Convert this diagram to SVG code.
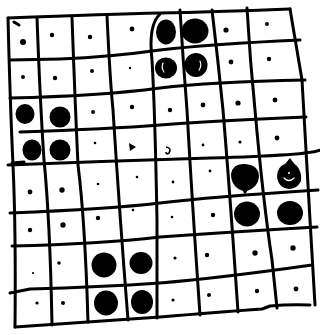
<svg xmlns="http://www.w3.org/2000/svg" width="320" height="335" viewBox="0 0 320 335">
<style>
.ln{fill:none;stroke:#000;stroke-width:3;stroke-linecap:round;stroke-linejoin:round}
.st{fill:#000}
.hl{fill:none;stroke:#fff;stroke-width:1.2;stroke-linecap:round}
</style>
<rect width="320" height="335" fill="#fff"/>
<g id="grid">
<path class="ln" d="M8,18 Q110,14 160,13 T290,9"/>
<path class="ln" d="M10,60 L60,59 Q110,57 160,50 Q212,44 300,40"/>
<path class="ln" d="M10,98 Q100,96 160,88 Q210,82 305,80"/>
<path class="ln" d="M20,132 Q110,129 160,125 Q210,121 306,117"/>
<path class="ln" d="M8,165 Q110,161 210,158 T320,150"/>
<path class="ln" d="M10,213 Q110,209 160,203 Q210,197 318,190"/>
<path class="ln" d="M12,246 Q100,244 160,237 Q230,232 317,227"/>
<path class="ln" d="M10,293 L30,289 Q100,287 160,283 Q220,278 312,265"/>
<path class="ln" d="M15,327 Q100,321 160,317 Q220,312 262,309 L270,306 Q290,304 310,305"/>
<path class="ln" d="M8,18 Q10,100 13,165 T15,327"/>
<path class="ln" d="M37,18 Q40,100 44,160 Q50,220 52,325"/>
<path class="ln" d="M72,18 Q75,100 78,165 Q85,220 88,322"/>
<path class="ln" d="M107,16 Q110,80 113,110 Q120,220 128,320"/>
<path class="ln" d="M160,14 Q148,25 152,60 Q155,110 157,220 L157,318"/>
<path class="ln" d="M180,10 Q183,60 187,110 Q192,200 200,315"/>
<path class="ln" d="M212,10 Q218,60 223,110 Q228,170 233,240 L238,312"/>
<path class="ln" d="M247,8 Q250,60 255,110 Q263,200 272,260 L277,308"/>
<path class="ln" d="M290,9 L302,80 Q305,130 310,220 L315,305"/>
<path class="ln" d="M14,22 L19,25"/>
<path class="ln" d="M12,163 L24,162"/>
</g>
<g id="stones">
<ellipse class="st" cx="166" cy="32" rx="10" ry="12.5"/>
<ellipse class="st" cx="195" cy="31" rx="13.5" ry="12.5"/>
<ellipse class="st" cx="166" cy="68" rx="11" ry="10.5"/>
<path class="hl" d="M163,63 Q161,68 164,72"/>
<ellipse class="st" cx="196" cy="65" rx="11.5" ry="12"/>
<path class="hl" d="M200,61 Q202,66 199,70"/>
<ellipse class="st" cx="25" cy="114" rx="9.5" ry="10"/>
<ellipse class="st" cx="60" cy="117" rx="10.5" ry="10.5"/>
<ellipse class="st" cx="32" cy="150" rx="9.5" ry="10.5"/>
<ellipse class="st" cx="60" cy="150" rx="10.5" ry="10.5"/>
<path class="st" d="M231,174 Q233,163 245,164 Q259,165 259,177 Q258,187 247,191 Q245,197 243,191 Q231,187 231,174Z"/>
<path class="st" d="M277,176 Q278,166 285,164 L290,158 Q294,164 297,166 Q302,172 301,181 Q297,189 289,189 Q278,188 277,176Z"/>
<path class="hl" d="M284,178 Q289,183 294,178"/>
<circle cx="289" cy="173" r="1" fill="#fff"/>
<ellipse class="st" cx="247" cy="214" rx="13" ry="12.5"/>
<ellipse class="st" cx="290" cy="213" rx="13" ry="12"/>
<ellipse class="st" cx="104" cy="265" rx="12.5" ry="12.5"/>
<ellipse class="st" cx="141" cy="263" rx="11.5" ry="11"/>
<ellipse class="st" cx="106" cy="303" rx="12" ry="12.5"/>
<ellipse class="st" cx="142" cy="302" rx="11" ry="12"/>
</g>
<g id="dots" fill="#000">
<circle cx="23" cy="42" r="3"/>
<circle cx="52" cy="35" r="2.2"/>
<circle cx="90" cy="37" r="2.2"/>
<circle cx="132" cy="29" r="2.4"/>
<circle cx="226" cy="30" r="2.6"/>
<circle cx="267" cy="24" r="2"/>
<circle cx="23" cy="77" r="2"/>
<circle cx="55" cy="78" r="2.2"/>
<circle cx="92" cy="71" r="2"/>
<circle cx="130" cy="68" r="1.2"/>
<circle cx="231" cy="62" r="2.4"/>
<circle cx="269" cy="59" r="2.2"/>
<circle cx="93" cy="112" r="2"/>
<circle cx="132" cy="107" r="2.2"/>
<circle cx="170" cy="110" r="2.2"/>
<circle cx="203" cy="105" r="2.4"/>
<circle cx="238" cy="103" r="2.6"/>
<circle cx="275" cy="100" r="2.4"/>
<circle cx="95" cy="143" r="1.3"/>
<path d="M129,143 L136,147 L130,151 Z"/>
<path d="M166,147 Q172,148 169,153 Q166,155 166,152" fill="none" stroke="#000" stroke-width="1.6"/>
<circle cx="203" cy="145" r="1.4"/>
<circle cx="240" cy="142" r="1.6"/>
<circle cx="277" cy="138" r="2.4"/>
<circle cx="30" cy="192" r="2.4"/>
<circle cx="62" cy="190" r="2.7"/>
<circle cx="98" cy="184" r="1.3"/>
<circle cx="137" cy="177" r="1.3"/>
<circle cx="173" cy="182" r="1.4"/>
<circle cx="210" cy="171" r="1.4"/>
<circle cx="30" cy="230" r="2.2"/>
<circle cx="63" cy="225" r="2.7"/>
<circle cx="98" cy="218" r="2.2"/>
<circle cx="133" cy="210" r="1.3"/>
<circle cx="172" cy="217" r="1.3"/>
<circle cx="213" cy="215" r="2.2"/>
<circle cx="33" cy="273" r="1.1"/>
<circle cx="59" cy="263" r="1.8"/>
<circle cx="175" cy="258" r="1.6"/>
<circle cx="207" cy="255" r="2.2"/>
<circle cx="255" cy="253" r="2.7"/>
<circle cx="293" cy="248" r="2.7"/>
<circle cx="37" cy="303" r="1.6"/>
<circle cx="63" cy="303" r="2"/>
<circle cx="173" cy="300" r="1.6"/>
<circle cx="209" cy="295" r="2"/>
<circle cx="257" cy="291" r="2.2"/>
<circle cx="296" cy="289" r="2.4"/>
</g>
</svg>
